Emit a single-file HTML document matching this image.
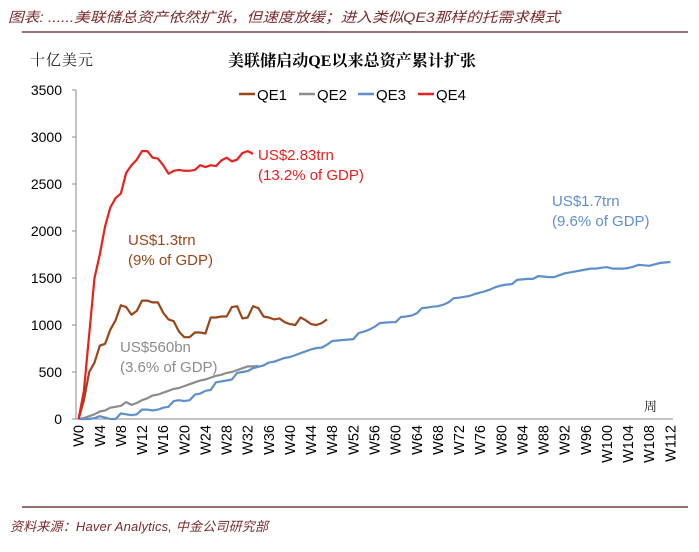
<!DOCTYPE html>
<html><head><meta charset="utf-8"><style>
body{margin:0;background:#fff;width:699px;height:552px;overflow:hidden;font-family:"Liberation Sans","Noto Sans CJK SC",sans-serif}
svg{display:block}
</style></head><body>
<svg id="chart" width="699" height="552" xmlns="http://www.w3.org/2000/svg">
<text x="8" y="22" font-size="14" font-style="italic" fill="#7a2b2b" textLength="552" lengthAdjust="spacingAndGlyphs" font-family="Liberation Sans,Noto Sans CJK SC,sans-serif">图表: ......美联储总资产依然扩张，但速度放缓；进入类似QE3那样的托需求模式</text>
<line x1="22" y1="32" x2="688" y2="32" stroke="#5a1a1a" stroke-width="1.2"/>
<text x="30" y="65" font-size="15" fill="#222" textLength="63" font-family="Noto Serif CJK SC,serif">十亿美元</text>
<text x="352" y="66" font-size="16" font-weight="bold" text-anchor="middle" fill="#000" textLength="248" font-family="Liberation Serif,Noto Serif CJK SC,serif">美联储启动QE以来总资产累计扩张</text>
<g id="legend"></g>
<g id="axes"></g>
<g id="series"></g>
<text x="644" y="411" font-size="13" fill="#222" font-family="Noto Serif CJK SC,serif">周</text>
<g font-size="15" font-family="Liberation Sans,sans-serif">
<text x="258" y="160" fill="#e8201e"><tspan x="258">US$2.83trn</tspan><tspan x="258" dy="20">(13.2% of GDP)</tspan></text>
<text x="128" y="245" fill="#99461a"><tspan x="128">US$1.3trn</tspan><tspan x="128" dy="20">(9% of GDP)</tspan></text>
<text x="120" y="352" fill="#8c8c8c"><tspan x="120">US$560bn</tspan><tspan x="120" dy="20">(3.6% of GDP)</tspan></text>
<text x="552" y="206" fill="#5e8fcc"><tspan x="552">US$1.7trn</tspan><tspan x="552" dy="20">(9.6% of GDP)</tspan></text>
</g>
<line x1="22" y1="507" x2="688" y2="507" stroke="#5a1a1a" stroke-width="1.2"/>
<text x="10" y="531" font-size="13" font-style="italic" fill="#7a2b2b" textLength="258" font-family="Liberation Sans,Noto Sans CJK SC,sans-serif">资料来源：Haver Analytics, 中金公司研究部</text>
</svg>
<script>
const seriesNames=["QE1","QE2","QE3","QE4"];
const seriesColors=["#99461a","#8c8c8c","#5e8fcc","#e8201e"];
const yTicks=[0,500,1000,1500,2000,2500,3000,3500];
const qe1=[0,200,500,600,780,800,950,1050,1210,1190,1110,1150,1260,1260,1240,1240,1130,1060,1040,930,870,870,920,920,910,1080,1080,1090,1090,1190,1200,1070,1080,1200,1180,1090,1080,1060,1070,1030,1010,1000,1080,1050,1010,1000,1020,1060];
const qe2=[0,10,30,50,80,90,120,130,140,180,150,170,200,220,250,260,280,300,320,330,350,370,390,410,420,440,460,470,490,500,520,540,560,560,565];
const qe3=[0,0,0,10,30,15,0,0,60,50,40,50,100,100,90,100,120,130,190,200,190,200,260,270,300,310,390,400,410,420,490,500,510,540,555,570,600,610,630,650,660,680,700,720,740,755,760,790,830,835,840,845,850,915,930,950,980,1020,1025,1030,1030,1085,1090,1100,1125,1180,1185,1195,1200,1215,1240,1285,1290,1300,1310,1330,1345,1360,1380,1405,1420,1430,1435,1480,1485,1490,1490,1520,1515,1510,1510,1530,1550,1560,1570,1580,1590,1600,1600,1610,1615,1600,1600,1600,1605,1620,1640,1635,1630,1645,1660,1665,1670];
const qe4=[0,300,900,1500,1750,2050,2250,2350,2400,2620,2700,2760,2850,2850,2780,2770,2700,2610,2640,2650,2640,2640,2650,2700,2680,2700,2690,2750,2780,2740,2760,2830,2850,2820];
const weekCount=113;
const seriesData=[qe1,qe2,qe3,qe4];

const NS="http://www.w3.org/2000/svg";
const X0=76,X1=673,Y0=419,Y1=90,YMAX=3500;
const band=(X1-X0)/weekCount;
function xs(i){return X0+band*(i+0.5);}
function ys(v){return Y0-(v/YMAX)*(Y0-Y1);}
function mk(tag,attrs,parent){const e=document.createElementNS(NS,tag);for(const k in attrs)e.setAttribute(k,attrs[k]);parent.appendChild(e);return e;}
const axes=document.getElementById('axes');
const ya=mk('line',{x1:X0,y1:Y1,x2:X0,y2:Y0,stroke:'#888','stroke-width':1},axes);


const xa=mk('line',{x1:X0,y1:Y0,x2:X1,y2:Y0,stroke:'#888','stroke-width':1},axes);


yTicks.forEach(v=>{
  const t=mk('line',{x1:X0-4,y1:ys(v),x2:X0,y2:ys(v),stroke:'#888'},axes);
  
  
  const l=mk('text',{x:62,y:ys(v)+5,'text-anchor':'end','font-size':14,fill:'#000'},axes);
  l.textContent=v;
  
  
});
for(let i=0;i<weekCount;i+=4){
  const x=xs(i);
  const l=mk('text',{x:0,y:0,'text-anchor':'end','font-size':14.5,fill:'#000',transform:`translate(${x+5},425) rotate(-90)`},axes);
  l.textContent='W'+i;
  
  
}
const sg=document.getElementById('series');
seriesData.forEach((d,si)=>{
  const pts=d.map((v,i)=>xs(i).toFixed(1)+','+ys(v).toFixed(1)).join(' ');
  const p=mk('polyline',{points:pts,fill:'none',stroke:seriesColors[si],'stroke-width':2.2,'stroke-linejoin':'round'},sg);
  
  
});
const lg=document.getElementById('legend');
const lx=[239,299,358,418];
seriesNames.forEach((n,i)=>{
  const l=mk('line',{x1:lx[i],y1:94,x2:lx[i]+16,y2:94,stroke:seriesColors[i],'stroke-width':2.5},lg);
  
  
  const t=mk('text',{x:lx[i]+18,y:100,'font-size':15,fill:'#000'},lg);
  t.textContent=n;
  
  
});
</script>
</body></html>
